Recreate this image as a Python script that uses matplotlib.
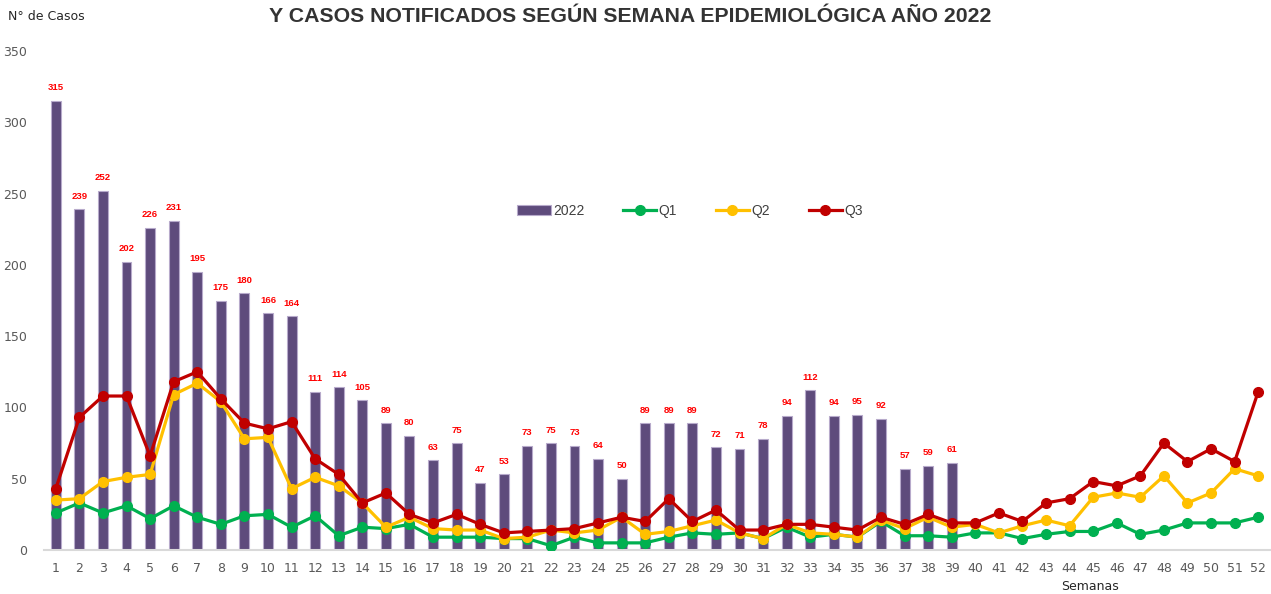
import numpy as np
import matplotlib.pyplot as plt

weeks = list(range(1, 53))
casos_2022 = [315, 239, 252, 202, 226, 231, 195, 175, 180, 166, 164, 111, 114, 105, 89, 80,
              63, 75, 47, 53, 73, 75, 73, 64, 50, 89, 89, 89, 72, 71, 78, 94, 112, 94, 95, 92,
              57, 59, 61]
q1 = [26, 33, 26, 31, 22, 31, 23, 18, 24, 25, 16, 24, 10, 16, 15, 18, 9, 9, 9, 8, 8, 3, 9, 5,
      5, 5, 9, 12, 11, 12, 8, 16, 9, 11, 9, 20, 10, 10, 9, 12, 12, 8, 11, 13, 13, 19, 11, 14,
      19, 19, 19, 23]
q2 = [35, 36, 48, 51, 53, 109, 117, 104, 78, 79, 43, 51, 45, 33, 16, 23, 15, 14, 14, 8, 9, 14,
      12, 14, 23, 11, 13, 17, 21, 12, 8, 18, 12, 11, 9, 21, 15, 23, 16, 18, 12, 17, 21, 17, 37,
      40, 37, 52, 33, 40, 57, 52]
q3 = [43, 93, 108, 108, 66, 118, 125, 106, 89, 85, 90, 64, 53, 33, 40, 25, 19, 25, 18, 12, 13,
      14, 15, 19, 23, 20, 36, 20, 28, 14, 14, 18, 18, 16, 14, 23, 18, 25, 19, 19, 26, 20, 33, 36,
      48, 45, 52, 75, 62, 71, 62, 111]

purple = '#5E4B7C'
green = '#00B050'
yellow = '#FFC000'
red = '#C00000'
gray = '#595959'

fig = plt.figure(figsize=(12.71, 5.94), dpi=100)
ax = fig.add_axes([44 / 1271, 44 / 594, 1226 / 1271, 499 / 594])

x = np.arange(len(weeks))
bx = x[:len(casos_2022)]
bars = ax.bar(bx, casos_2022, width=0.42, color=purple, edgecolor='#B7AACB', linewidth=0.8,
              label='2022', zorder=2)
for xi, v in zip(bx, casos_2022):
    ax.text(xi, v + 6, str(v), ha='center', va='bottom', color='#FF0000', fontsize=6.8,
            fontweight='bold', family='Liberation Sans')

l1, = ax.plot(x, q1, color=green, lw=2.3, marker='o', ms=7, label='Q1', zorder=3)
l2, = ax.plot(x, q2, color=yellow, lw=2.3, marker='o', ms=7, label='Q2', zorder=4)
l3, = ax.plot(x, q3, color=red, lw=2.3, marker='o', ms=7, label='Q3', zorder=5)

ax.set_xlim(-0.5, len(weeks) - 0.5)
ax.set_ylim(0, 350)
ax.set_yticks(range(0, 351, 50))
ax.set_xticks(x)
ax.set_xticklabels([str(w) for w in weeks])
ax.tick_params(axis='both', length=0, labelsize=9, colors=gray)
ax.tick_params(axis='y', pad=12)
ax.tick_params(axis='x', pad=9)
for s in ['top', 'right', 'left']:
    ax.spines[s].set_visible(False)
ax.spines['bottom'].set_color('#D9D9D9')
ax.spines['bottom'].set_linewidth(1.5)

fig.text(8 / 1271, 1 - 16 / 594, 'N° de Casos', fontsize=9, color='#262626', va='center')
fig.text(1090 / 1271, 1 - 587 / 594, 'Semanas', fontsize=9, color='#262626', ha='center',
         va='center')
fig.text(630 / 1271, 1 - 17 / 594,
         'Y CASOS NOTIFICADOS SEGÚN SEMANA EPIDEMIOLÓGICA AÑO 2022',
         fontsize=15.3, fontweight='bold', color='#333333', ha='center', va='center',
         family='Liberation Sans')

leg = fig.legend([bars, l1, l2, l3], ['2022', 'Q1', 'Q2', 'Q3'], loc='center',
                 bbox_to_anchor=(690 / 1271, 1 - 211 / 594), ncol=4,
                 frameon=False, columnspacing=2.8, handlelength=2.4,
                 handletextpad=0.15, prop={'family': 'Liberation Sans', 'size': 10})
for t in leg.get_texts():
    t.set_color('#404040')

fig.savefig('out.png', dpi=100)
